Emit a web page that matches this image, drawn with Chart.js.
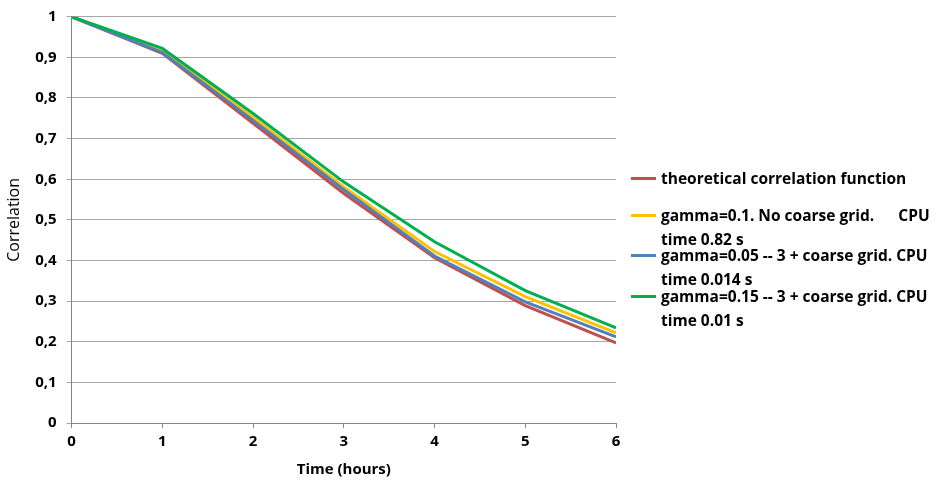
<!DOCTYPE html>
<html>
<head>
<meta charset="utf-8">
<script src="https://cdn.jsdelivr.net/npm/chart.js@4"></script>
<style>
  html, body { margin: 0; padding: 0; background: #fff; }
  #wrap { position: relative; width: 938px; height: 481px; }
  #legend { position: absolute; left: 631px; top: 166px; font-family: "Open Sans", sans-serif; font-weight: bold; font-size: 15.5px; color: #000; }
  .item { position: absolute; left: 0; white-space: pre; line-height: 24px; }
  .sw { position: absolute; left: 0; top: 11px; width: 25px; height: 3px; }
  .txt { position: absolute; left: 30px; top: 0; }
</style>
</head>
<body>
<div id="wrap">
  <canvas id="c" width="938" height="481"></canvas>
  <div id="legend"></div>
</div>
<script>
const hours = [0, 1, 2, 3, 4, 5, 6];
const theoretical = [1, 0.910, 0.738, 0.565, 0.407, 0.289, 0.197];
const gamma01 = [1, 0.915, 0.752, 0.581, 0.422, 0.311, 0.222];
const gamma005 = [1, 0.912, 0.745, 0.574, 0.411, 0.298, 0.212];
const gamma015 = [1, 0.922, 0.762, 0.593, 0.446, 0.326, 0.234];
const seriesNames = [
  "theoretical correlation function",
  "gamma=0.1. No coarse grid.      CPU\ntime 0.82 s",
  "gamma=0.05 -- 3 + coarse grid. CPU\ntime 0.014 s",
  "gamma=0.15 -- 3 + coarse grid. CPU\ntime 0.01 s"
];
const colors = ["#C0504D", "#FFC000", "#4F81BD", "#00B050"];
const seriesData = [theoretical, gamma01, gamma005, gamma015];
const legendTops = [0, 37, 77, 118];

const datasets = seriesData.map((vals, i) => ({
  label: seriesNames[i],
  data: hours.map((h, j) => ({ x: h, y: vals[j] })),
  borderColor: colors[i],
  backgroundColor: colors[i],
  borderWidth: 3,
  pointRadius: 0,
  tension: 0,
  order: 3 - i
}));

const FONT = "'Open Sans', sans-serif";
new Chart(document.getElementById('c'), {
  type: 'line',
  data: { datasets },
  options: {
    responsive: false,
    animation: false,
    layout: { padding: { left: 0, right: 322, top: 0, bottom: 2 } },
    plugins: { legend: { display: false }, tooltip: { enabled: false } },
    scales: {
      x: {
        type: 'linear', min: 0, max: 6,
        ticks: { stepSize: 1, color: '#000', font: { family: FONT, weight: 'bold', size: 15 }, padding: 5 },
        grid: { drawOnChartArea: false, drawTicks: true, tickLength: 5, color: '#868686' },
        border: { color: '#868686', width: 1 },
        title: { display: true, text: 'Time (hours)', color: '#000', font: { family: FONT, weight: 'bold', size: 15 }, padding: { top: 5, bottom: 0 } }
      },
      y: {
        min: 0, max: 1,
        ticks: { stepSize: 0.1, color: '#000', font: { family: FONT, weight: 'bold', size: 15, lineHeight: 0.9 }, padding: 10,
          callback: v => { const r = Math.round(v * 10) / 10; return String(r).replace('.', ','); } },
        grid: { color: '#a6a6a6', tickLength: 5, lineWidth: 1 },
        border: { color: '#868686', width: 1 },
        title: { display: true, text: 'Correlation', color: '#000', font: { family: FONT, weight: 'normal', size: 16 }, padding: { top: 5, bottom: 1 } }
      }
    }
  }
});

const leg = document.getElementById('legend');
seriesNames.forEach((name, i) => {
  const it = document.createElement('div');
  it.className = 'item';
  it.style.top = legendTops[i] + 'px';
  const sw = document.createElement('div');
  sw.className = 'sw';
  sw.style.background = colors[i];
  const t = document.createElement('div');
  t.className = 'txt';
  t.textContent = name;
  it.appendChild(sw); it.appendChild(t);
  leg.appendChild(it);
});
</script>
</body>
</html>
